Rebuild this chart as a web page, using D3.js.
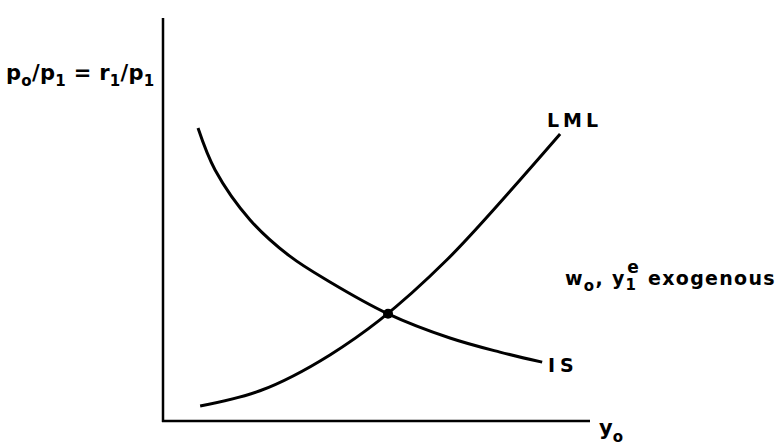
<!DOCTYPE html>
<html>
<head>
<meta charset="utf-8">
<script src="https://cdn.jsdelivr.net/npm/d3@7"></script>
<style>
  body { margin: 0; background: #fff; }
  text { font-family: "DejaVu Sans", sans-serif; font-weight: bold; fill: #000; }
</style>
</head>
<body>
<svg id="chart" width="776" height="447"></svg>
<script>
// curve points (arbitrary units, 0-10 on both axes)
const isX = [0.82, 1.22, 2.04, 2.97, 3.91, 5.27, 6.72, 7.89, 8.88];
const isY = [7.27, 6.23, 4.99, 4.09, 3.45, 2.66, 2.06, 1.71, 1.46];
const lmlX = [0.87, 2.27, 3.91, 5.08, 6.65, 8.36, 9.30];
const lmlY = [0.37, 0.75, 1.64, 2.51, 4.00, 5.98, 7.12];
const equilibrium = [5.27, 2.66];

const svg = d3.select("#chart");
const x = d3.scaleLinear().domain([0, 10]).range([163, 590]);
const y = d3.scaleLinear().domain([0, 10]).range([421, 18]);

const isLine = d3.line()
    .x(d => x(d[0]))
    .y(d => y(d[1]))
    .curve(d3.curveCatmullRom.alpha(0.5));
const lmlLine = d3.line()
    .x(d => x(d[0]))
    .y(d => y(d[1]))
    .curve(d3.curveMonotoneX);

// axes, plain lines with no ticks
svg.append("line")
    .attr("x1", x(0)).attr("x2", x(0))
    .attr("y1", y(0) + 1).attr("y2", y(10))
    .attr("stroke", "#000").attr("stroke-width", 2.5);
svg.append("line")
    .attr("x1", x(0) - 1).attr("x2", x(10))
    .attr("y1", y(0)).attr("y2", y(0))
    .attr("stroke", "#000").attr("stroke-width", 2.5);

svg.append("path")
    .datum(isX.map((v, i) => [v, isY[i]]))
    .attr("fill", "none").attr("stroke", "#000")
    .attr("stroke-width", 3).attr("d", isLine);

svg.append("path")
    .datum(lmlX.map((v, i) => [v, lmlY[i]]))
    .attr("fill", "none").attr("stroke", "#000")
    .attr("stroke-width", 3).attr("d", lmlLine);

svg.append("circle")
    .attr("cx", x(equilibrium[0])).attr("cy", y(equilibrium[1]))
    .attr("r", 5).attr("fill", "#000");

// labels
svg.append("text").attr("x", 547).attr("y", 127)
    .attr("font-size", 19).attr("letter-spacing", 4).text("LML");
svg.append("text").attr("x", 548).attr("y", 372)
    .attr("font-size", 19).attr("letter-spacing", 5).text("IS");

function sub(t, s, dy) {
    t.append("tspan").attr("font-size", 15).attr("dy", dy).text(s);
}

// y axis label
let yl = svg.append("text").attr("x", 6).attr("y", 80).attr("font-size", 21)
    .attr("letter-spacing", 0.3);
yl.append("tspan").text("p");
sub(yl, "o", 6);
yl.append("tspan").attr("dy", -6).text("/p");
sub(yl, "1", 6);
yl.append("tspan").attr("dy", -6).text(" = r");
sub(yl, "1", 6);
yl.append("tspan").attr("dy", -6).text("/p");
sub(yl, "1", 6);

// x axis label
let xl = svg.append("text").attr("x", 599).attr("y", 435).attr("font-size", 21);
xl.append("tspan").text("y");
sub(xl, "o", 7);

// exogenous note
let ex = svg.append("text").attr("x", 565).attr("y", 285).attr("font-size", 19)
    .attr("letter-spacing", 1.3);
ex.append("tspan").text("w");
sub(ex, "o", 6);
ex.append("tspan").attr("dy", -6).text(", y");
ex.append("tspan").attr("font-size", 15).attr("dy", 5).text("1");
ex.append("tspan").attr("font-size", 17).attr("dx", -10).attr("dy", -17).text("e");
ex.append("tspan").attr("dy", 12).text(" exogenous");
</script>
</body>
</html>
